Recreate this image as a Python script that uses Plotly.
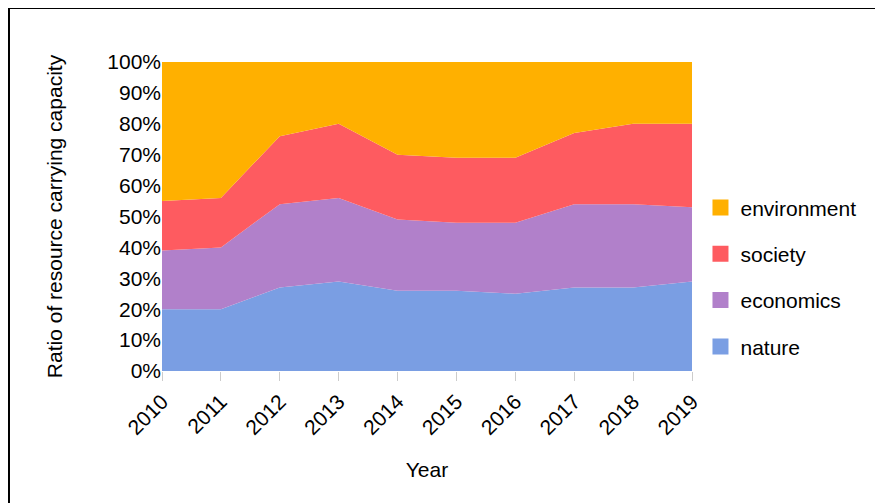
import plotly.graph_objects as go

years = [2010, 2011, 2012, 2013, 2014, 2015, 2016, 2017, 2018, 2019]
nature = [20, 20, 27, 29, 26, 26, 25, 27, 27, 29]
economics = [19, 20, 27, 27, 23, 22, 23, 27, 27, 24]
society = [16, 16, 22, 24, 21, 21, 21, 23, 26, 27]
environment = [45, 44, 24, 20, 30, 31, 31, 23, 20, 20]

series = [
    ("nature", nature, "#7a9ee3"),
    ("economics", economics, "#b180ca"),
    ("society", society, "#fe5b60"),
    ("environment", environment, "#ffb000"),
]

FONT = "Liberation Sans, Arial, sans-serif"
FS = 21

fig = go.Figure()
for name, vals, col in series:
    fig.add_trace(go.Scatter(
        x=years, y=vals, name=name, stackgroup="one", mode="none",
        fillcolor=col, showlegend=False, hoverinfo="x+y+name",
    ))

# legend entries (square swatches), top to bottom
for name, vals, col in reversed(series):
    fig.add_trace(go.Scatter(
        x=[None], y=[None], name=name, mode="markers",
        marker=dict(symbol="square", size=20, color=col),
        legendgroup=name, showlegend=True,
    ))

fig.update_layout(
    width=883, height=503,
    margin=dict(l=154, r=199, t=54, b=140),
    paper_bgcolor="white", plot_bgcolor="white",
    font=dict(family=FONT, size=FS, color="#000"),
    showlegend=True,
    legend=dict(x=1.016, xanchor="left", y=0.303, yanchor="middle",
                traceorder="grouped", tracegroupgap=16,
                font=dict(size=FS), itemsizing="trace"),
    shapes=[
        dict(type="line", xref="paper", yref="paper", x0=-0.2887, x1=1.5,
             y0=1.1748, y1=1.1748, line=dict(color="black", width=2)),
        dict(type="line", xref="paper", yref="paper", x0=-0.2887, x1=-0.2887,
             y0=1.1748, y1=-0.6, line=dict(color="black", width=2)),
    ],
)
fig.update_xaxes(
    range=[2010, 2019], tickvals=years, ticktext=[str(y) for y in years],
    tickangle=-45, ticks="outside", ticklen=9, tickcolor="#cccccc",
    showgrid=False, zeroline=False, showline=False,
    title=dict(text="Year", standoff=24, font=dict(size=FS)),
)
fig.update_yaxes(
    range=[0, 100], dtick=10, ticksuffix="%",
    showgrid=False, zeroline=False, showline=False,
    title=dict(text="Ratio of resource carrying capacity", standoff=38, font=dict(size=FS)),
)

fig.write_html("out.html")
